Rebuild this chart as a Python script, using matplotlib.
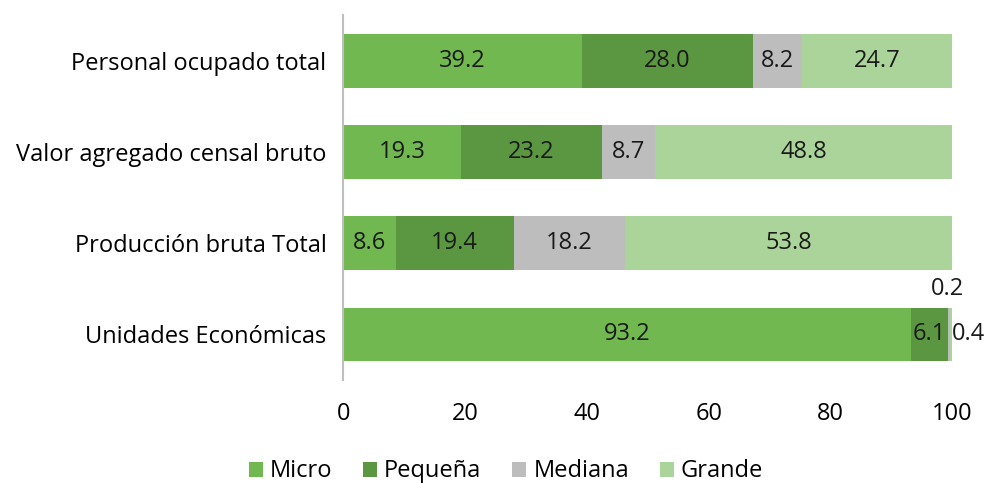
import matplotlib
matplotlib.use("Agg")
import matplotlib.pyplot as plt
import numpy as np

categories = ["Personal ocupado total", "Valor agregado censal bruto",
              "Producción bruta Total", "Unidades Económicas"]
series_names = ["Micro", "Pequeña", "Mediana", "Grande"]
micro = [39.2, 19.3, 8.6, 93.2]
pequena = [28.0, 23.2, 19.4, 6.1]
mediana = [8.2, 8.7, 18.2, 0.4]
grande = [24.7, 48.8, 53.8, 0.2]
colors = ["#70b84f", "#5b9640", "#bdbdbd", "#abd49a"]
xticks = [0, 20, 40, 60, 80, 100]

plt.rcParams['font.family'] = ['Open Sans', 'DejaVu Sans']
FS = 17

fig = plt.figure(figsize=(9.92, 4.83), dpi=100)
ax = fig.add_axes([0.346, 0.213, 0.614, 0.756])

y = np.arange(len(categories))
left = np.zeros(len(categories))
data = [micro, pequena, mediana, grande]
for name, vals, c in zip(series_names, data, colors):
    vals = np.array(vals)
    ax.barh(y, vals, left=left, height=0.59, color=c, label=name)
    for i, (v, l) in enumerate(zip(vals, left)):
        if v >= 5:
            ax.text(l + v / 2, i, f"{v:.1f}", ha="center", va="center", fontsize=FS, color="#1a1a1a")
        elif name == "Mediana":
            ax.text(l + v + 0.2, i, f"{v:.1f}", ha="left", va="center", fontsize=FS, color="#1a1a1a")
        else:
            ax.text(l + v / 2 - 0.6, i - 0.5, f"{v:.1f}", ha="center", va="center", fontsize=FS, color="#1a1a1a")
    left += vals

ax.set_ylim(3.5, -0.5)
ax.set_xlim(0, 100)
ax.set_yticks(y)
ax.set_yticklabels(categories, fontsize=FS)
ax.set_xticks(xticks)
ax.set_xticklabels([str(t) for t in xticks], fontsize=FS)
ax.tick_params(axis="y", length=0, pad=12)
ax.tick_params(axis="x", length=0, pad=16)
for s in ["top", "right", "bottom"]:
    ax.spines[s].set_visible(False)
ax.spines["left"].set_color("#bfbfbf")
ax.spines["left"].set_linewidth(1.5)

fig.legend(loc="lower center", bbox_to_anchor=(0.51, -0.045), ncol=4, frameon=False,
           fontsize=FS, handlelength=0.6, handleheight=0.6, handletextpad=0.3, columnspacing=1.3)

fig.savefig("out.png", dpi=100)
